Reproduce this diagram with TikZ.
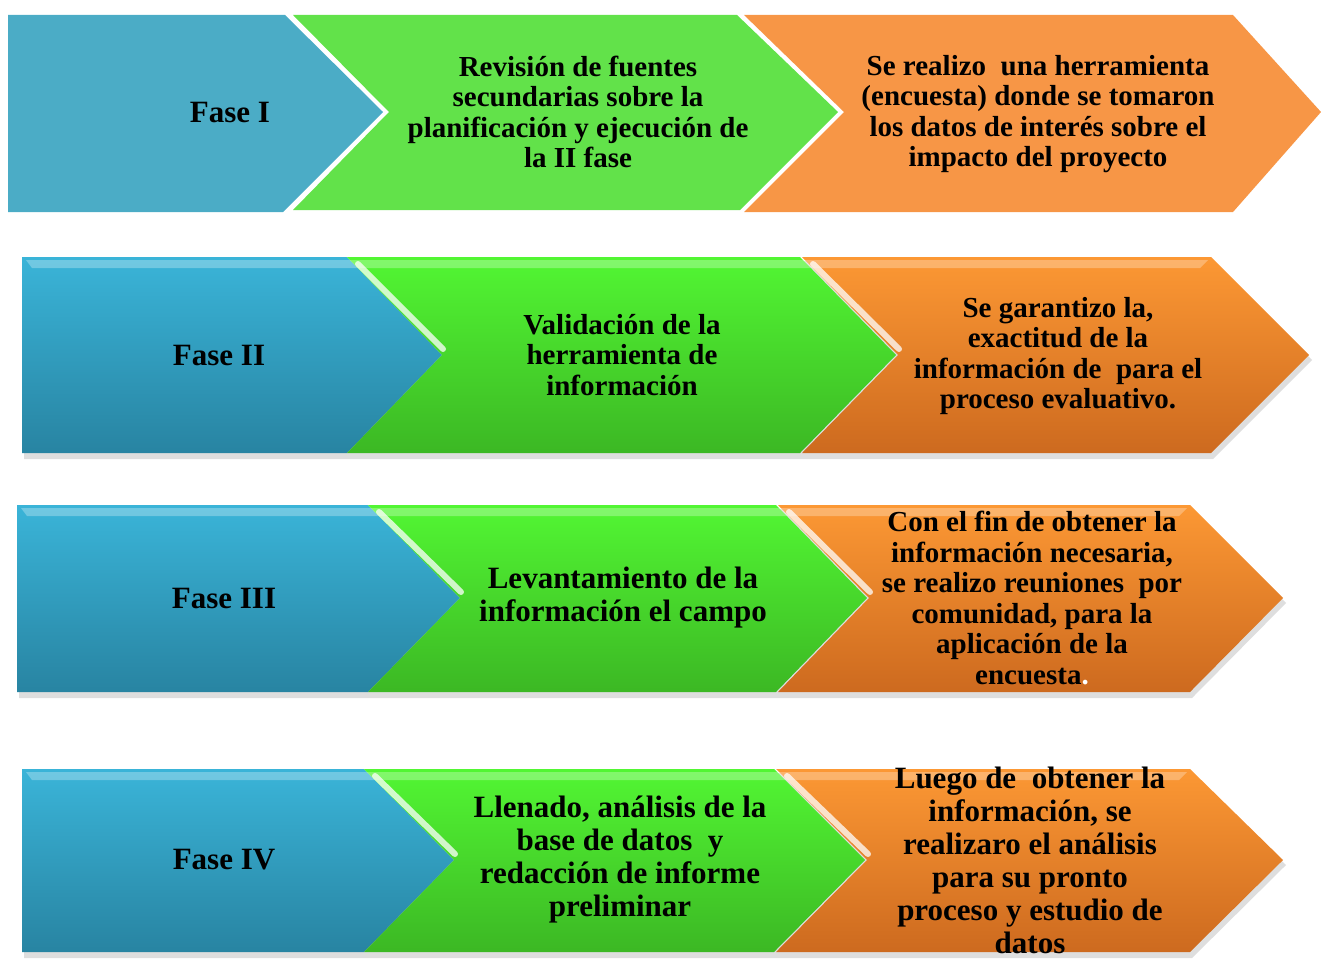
\documentclass[tikz,border=0pt]{standalone}
\usepackage{fontspec}
\setmainfont{Liberation Serif}

\definecolor{azulP}{HTML}{4BACC6}
\definecolor{verdeP}{HTML}{62E24A}
\definecolor{naranjaP}{HTML}{F79646}
\definecolor{azulT}{HTML}{3AB4D8}
\definecolor{azulB}{HTML}{2884A2}
\definecolor{verdeT}{HTML}{52F633}
\definecolor{verdeB}{HTML}{3CB824}
\definecolor{naranjaT}{HTML}{FC9834}
\definecolor{naranjaB}{HTML}{CD6A1F}

\tikzset{
  txt/.style={align=center, inner sep=0pt, font=\fontsize{29}{30.5}\selectfont\bfseries},
  bigtxt/.style={align=center, inner sep=0pt, font=\fontsize{31}{33}\selectfont\bfseries},
  fasetxt/.style={align=center, inner sep=0pt, font=\fontsize{31}{33}\selectfont\bfseries},
  azul/.style={top color=azulT, bottom color=azulB},
  verde/.style={top color=verdeT, bottom color=verdeB},
  naranja/.style={top color=naranjaT, bottom color=naranjaB},
  sombra/.style={fill=black, fill opacity=0.13},
  banda/.style={fill=white, fill opacity=0.28},
  brillo/.style={draw=white, line width=6pt, opacity=0.75, line cap=round}
}

\begin{document}
\begin{tikzpicture}[x=1pt,y=-1pt]
  \useasboundingbox (0,0) rectangle (1321,958);

  % fila 1, colores planos
  \fill[azulP] (8,15) -- (285,15) -- (383,112) -- (283,212) -- (8,212) -- cycle;
  \fill[verdeP] (293,15) -- (737,15) -- (838,112) -- (740,210) -- (293,210) -- (389,112) -- cycle;
  \fill[naranjaP] (744,15) -- (1233,15) -- (1321,112) -- (1233,212) -- (744,212) -- (844,112) -- cycle;
  \node[fasetxt] (fase1) at (230,113) {Fase I};
  \node[txt] (act1) at (578,112) {Revisión de fuentes\\secundarias sobre la\\planificación y ejecución de\\la II fase};
  \node[txt] (res1) at (1038,114) {Se realizo\ \ una herramienta\\(encuesta) donde se tomaron\\los datos de interés sobre el\\impacto del proyecto};

  % fila 2
  \fill[sombra] (24,261) -- (1213,261) -- (1312,360) -- (1213,459) -- (24,459) -- cycle;
  \path[azul] (22,257) -- (347,257) -- (442,355) -- (347,453) -- (22,453) -- cycle;
  \path[verde] (347,257) -- (800,257) -- (896,355) -- (800,453) -- (347,453) -- (442,355) -- cycle;
  \path[naranja] (802,257) -- (1211,257) -- (1309,355) -- (1211,453) -- (802,453) -- (898,355) -- cycle;
  \fill[banda] (26,260) -- (1208,260) -- (1200,268) -- (32,268) -- cycle;
  \draw[brillo] (358,264) -- (443,349);
  \draw[brillo] (813,264) -- (899,349);
  \node[fasetxt] (fase2) at (219,355) {Fase II};
  \node[txt] (act2) at (622,355) {Validación de la\\herramienta de\\información};
  \node[txt] (res2) at (1058,356) {Se garantizo la,\\exactitud de la\\información de\ \ para el\\proceso evaluativo.};

  % fila 3
  \fill[sombra] (19,509) -- (1192,509) -- (1286,603) -- (1192,698) -- (19,698) -- cycle;
  \path[azul] (17,505) -- (368,505) -- (460,598) -- (368,692) -- (17,692) -- cycle;
  \path[verde] (368,505) -- (776,505) -- (867,598) -- (776,692) -- (368,692) -- (460,598) -- cycle;
  \path[naranja] (778,505) -- (1190,505) -- (1283,598) -- (1190,692) -- (778,692) -- (869,598) -- cycle;
  \fill[banda] (21,508) -- (1187,508) -- (1179,516) -- (27,516) -- cycle;
  \draw[brillo] (379,512) -- (461,592);
  \draw[brillo] (789,512) -- (870,592);
  \node[fasetxt] (fase3) at (224,598) {Fase III};
  \node[bigtxt] (act3) at (623,598) {Levantamiento de la\\información el campo};
  \node[txt] (res3) at (1032,598) {Con el fin de obtener la\\información necesaria,\\se realizo reuniones\ \ por\\comunidad, para la\\aplicación de la\\encuesta\textcolor{white}{.}};

  % fila 4
  \fill[sombra] (24,773) -- (1192,773) -- (1286,865) -- (1192,958) -- (24,958) -- cycle;
  \path[azul] (22,769) -- (364,769) -- (454,860) -- (364,952) -- (22,952) -- cycle;
  \path[verde] (364,769) -- (774,769) -- (865,860) -- (774,952) -- (364,952) -- (454,860) -- cycle;
  \path[naranja] (776,769) -- (1190,769) -- (1283,860) -- (1190,952) -- (776,952) -- (867,860) -- cycle;
  \fill[banda] (26,772) -- (1187,772) -- (1179,780) -- (32,780) -- cycle;
  \draw[brillo] (375,776) -- (455,854);
  \draw[brillo] (787,776) -- (868,854);
  \node[fasetxt] (fase4) at (224,860) {Fase IV};
  \node[bigtxt] (act4) at (620,860) {Llenado, análisis de la\\base de datos\ \ y\\redacción de informe\\preliminar};
  \node[bigtxt] (res4) at (1030,860) {Luego de\ \ obtener la\\información, se\\realizaro el análisis\\para su pronto\\proceso y estudio de\\datos};
\end{tikzpicture}
\end{document}
